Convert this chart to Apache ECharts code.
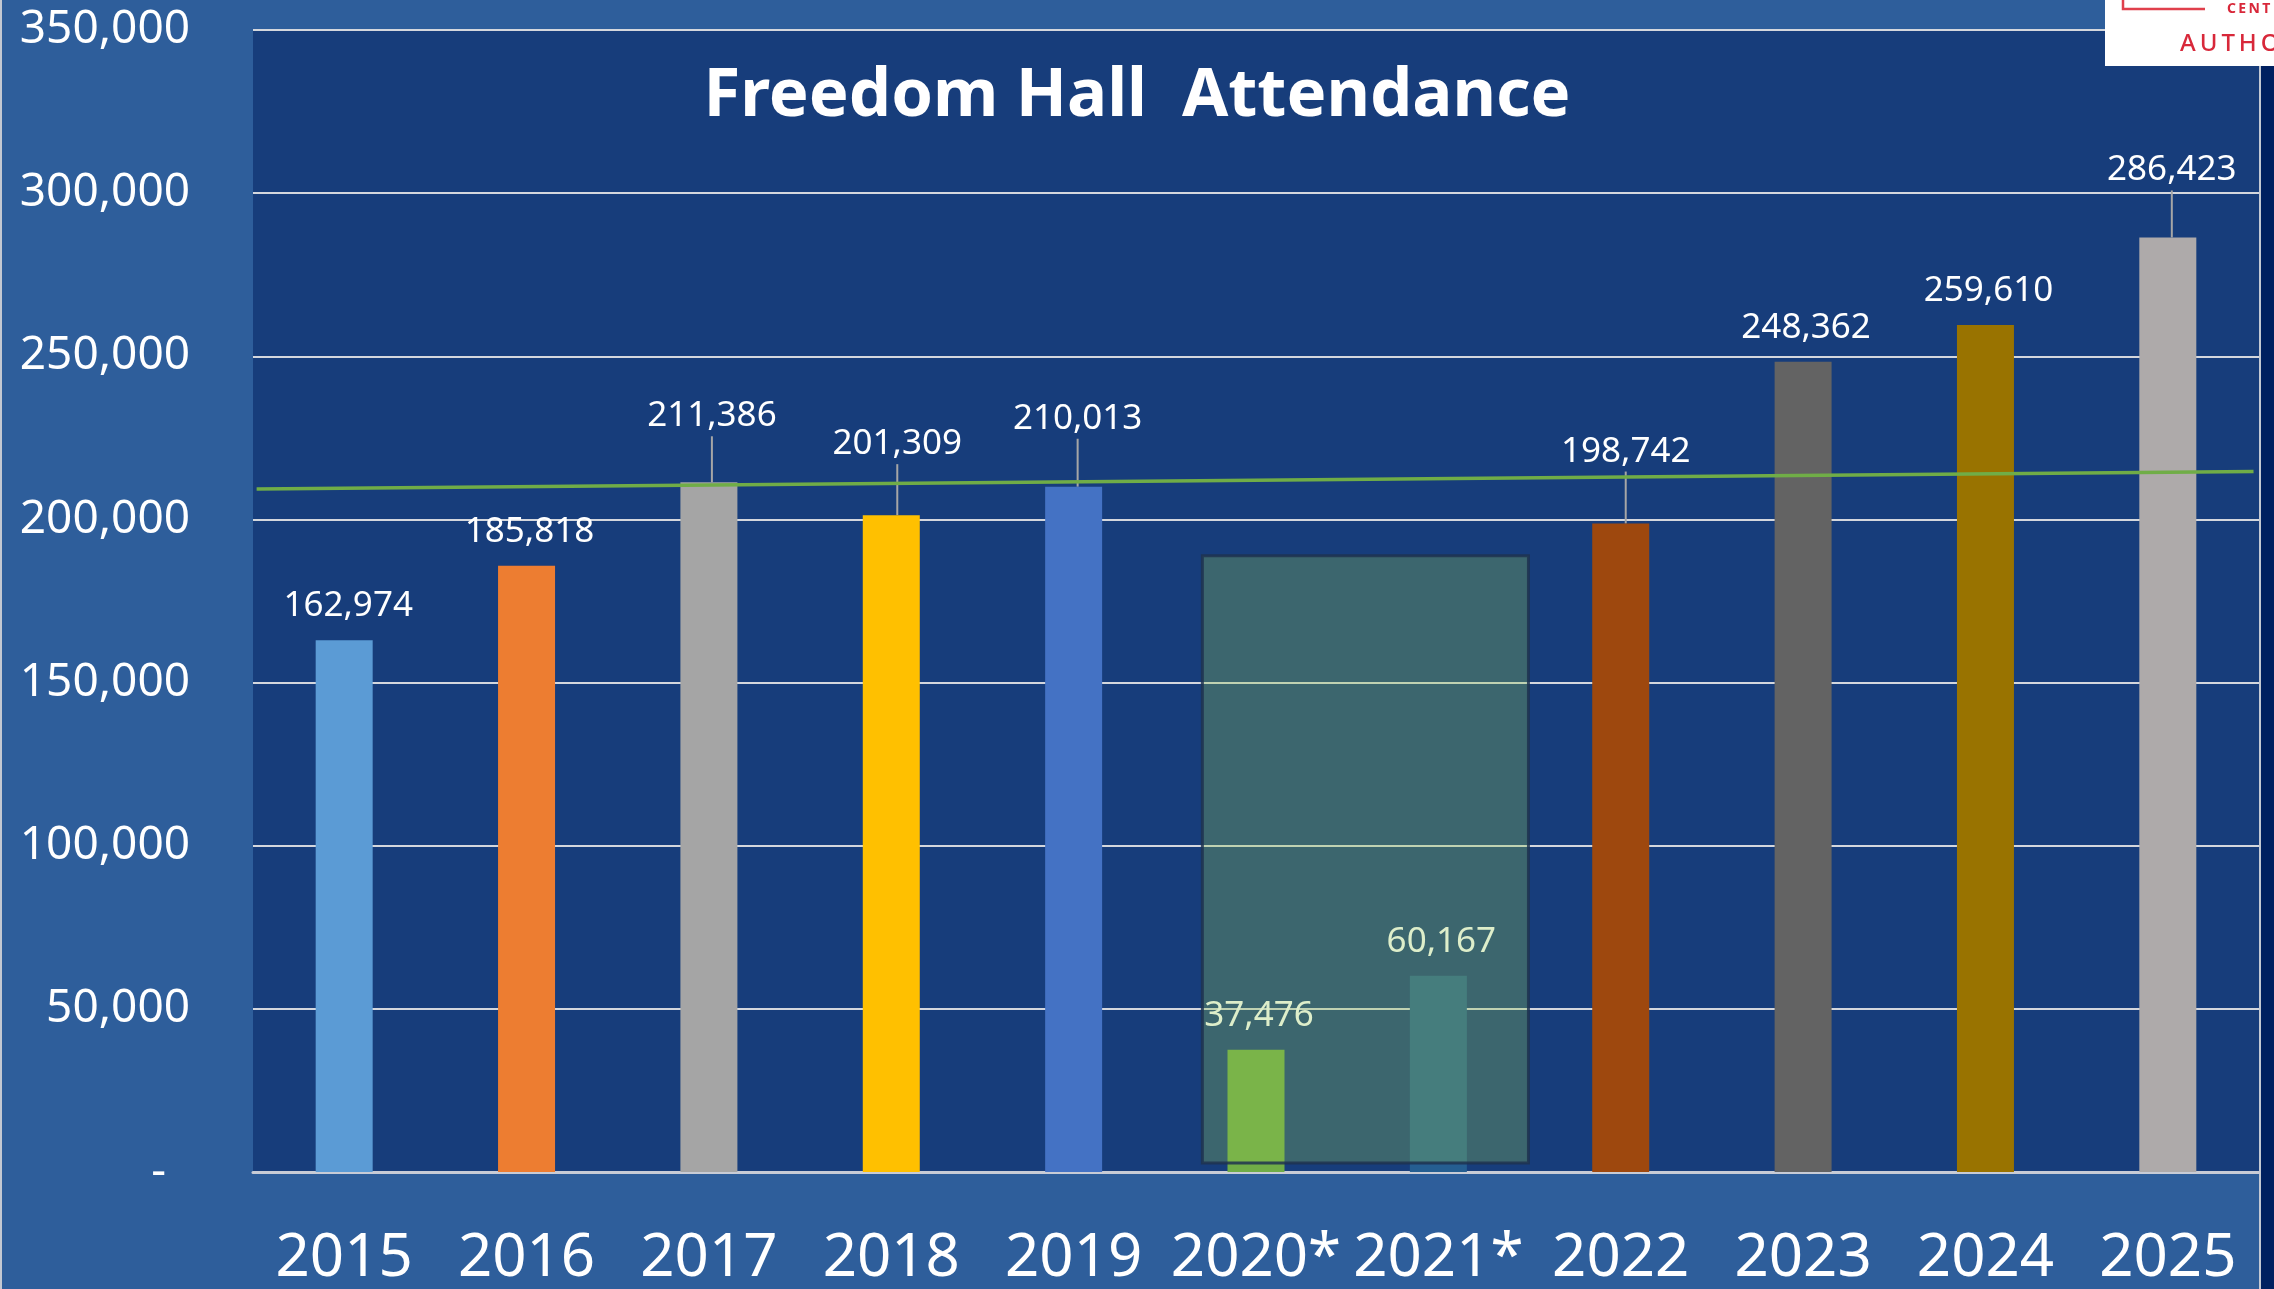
<!DOCTYPE html>
<html>
<head>
<meta charset="utf-8">
<script src="https://cdn.jsdelivr.net/npm/echarts@6/dist/echarts.min.js"></script>
<style>
  html, body { margin: 0; padding: 0; background: #002060; }
  #chart { width: 2274px; height: 1289px; }
</style>
</head>
<body>
<div id="chart"></div>
<script>
// ---------------- data ----------------
const categories = ['2015', '2016', '2017', '2018', '2019', '2020*', '2021*', '2022', '2023', '2024', '2025'];
const attendance = [162974, 185818, 211386, 201309, 210013, 37476, 60167, 198742, 248362, 259610, 286423];
const trendX = [0.02, 10.97];          // in category units across the plot
const trendY = [209300, 214700];       // trend line values at its two ends
const shadeX = [5.206, 6.994];         // highlighted box (2020*–2021*) in category units
const shadeY = [188900, 2756];         // highlighted box value range
const yMin = 0, yMax = 350000, yStep = 50000;
const titleText = 'Freedom Hall  Attendance';

// ---------------- styles ----------------
const barColors = ['#5b9bd5', '#ed7d31', '#a5a5a5', '#ffc000', '#4472c4', '#70ad47',
                   '#255e91', '#9e480e', '#636363', '#997300', '#aeaaaa'];
// label nudges (pixels) – labels lifted above bars get a leader line
const labelDy = [0, 0, -32, -37, -34, 0, 0, -38, 0, 0, -33];
const labelDx = [4, 3, 3, 6, 4, 3, 3, 5, 3, 3, 4];
const FONT = '"Noto Sans", "Open Sans", sans-serif';

const chart = echarts.init(document.getElementById('chart'), null, { renderer: 'canvas' });

const option = {
  backgroundColor: '#002060',
  animation: false,
  title: {
    text: titleText,
    left: 'center',
    top: 58,
    textStyle: { color: '#ffffff', fontFamily: FONT, fontWeight: 'bold', fontSize: 67 }
  },
  graphic: [
    { type: 'rect', z: -10, silent: true,
      shape: { x: 1, y: -5, width: 2259, height: 1300 },
      style: { fill: '#2e5e9b', stroke: '#c3c8d2', lineWidth: 2 } },
    { type: 'rect', z: 100, silent: true,
      shape: { x: 2105, y: 0, width: 175, height: 66 },
      style: { fill: '#ffffff' } },
    { type: 'polyline', z: 101, silent: true,
      shape: { points: [[2123, -2], [2123, 9], [2205, 9]] },
      style: { stroke: '#e0404c', lineWidth: 2.5, fill: null } },
    { type: 'text', z: 101, silent: true, x: 2227, y: 9,
      style: { text: 'C\u2009E\u2009N\u2009T', fill: '#d8283a', fontFamily: FONT, fontWeight: 'bold',
               fontSize: 14, verticalAlign: 'middle', align: 'left' } },
    { type: 'text', z: 101, silent: true, x: 2180, y: 44,
      style: { text: 'A\u2009U\u2009T\u2009H\u2009O', fill: '#d8283a', fontFamily: FONT, fontWeight: 500,
               fontSize: 24, verticalAlign: 'middle', align: 'left' } }
  ],
  grid: {
    left: 253, right: 15, top: 30, bottom: 117,
    show: true, backgroundColor: '#173d7b', borderWidth: 0
  },
  xAxis: [
    {
      type: 'category',
      data: categories,
      axisTick: { show: false },
      axisLine: { show: true, lineStyle: { color: '#c8ccd6', width: 3 } },
      axisLabel: { color: '#ffffff', fontFamily: FONT, fontSize: 60, lineHeight: 60, margin: 57, interval: 0 },
      splitLine: { show: false }
    },
    { type: 'value', min: 0, max: categories.length, show: false }
  ],
  yAxis: {
    type: 'value',
    min: yMin, max: yMax, interval: yStep,
    axisLine: { show: false },
    axisTick: { show: false },
    splitLine: { show: true, lineStyle: { color: '#d4d7dd', width: 2 } },
    axisLabel: {
      color: '#ffffff', fontFamily: FONT, fontSize: 46, margin: 63,
      formatter: v => v === 0 ? '-  ' : v.toLocaleString('en-US')
    }
  },
  series: [
    {
      type: 'bar',
      xAxisIndex: 0,
      barWidth: 57,
      z: 2,
      data: attendance.map((v, i) => ({
        value: v,
        itemStyle: { color: barColors[i] },
        labelLine: { show: labelDy[i] !== 0 }
      })),
      label: {
        show: true, position: 'top', distance: 14,
        color: '#ffffff', fontFamily: FONT, fontSize: 35, lineHeight: 40,
        formatter: p => p.value.toLocaleString('en-US')
      },
      labelLayout: p => ({ dx: labelDx[p.dataIndex], dy: labelDy[p.dataIndex] }),
      labelLine: { show: true, lineStyle: { color: '#a6a6a6', width: 2 } }
    },
    {
      type: 'line',
      xAxisIndex: 1,
      z: 3,
      symbol: 'none',
      data: trendX.map((x, i) => [x, trendY[i]]),
      lineStyle: { color: '#70ad47', width: 3.5 },
      markArea: {
        silent: true,
        z: 10,
        label: { show: false },
        itemStyle: {
          color: 'rgba(145, 200, 78, 0.3)',
          borderColor: 'rgba(30, 50, 80, 0.85)',
          borderWidth: 3
        },
        data: [[{ coord: [shadeX[0], shadeY[0]] }, { coord: [shadeX[1], shadeY[1]] }]]
      }
    }
  ]
};

chart.setOption(option);
</script>
</body>
</html>
